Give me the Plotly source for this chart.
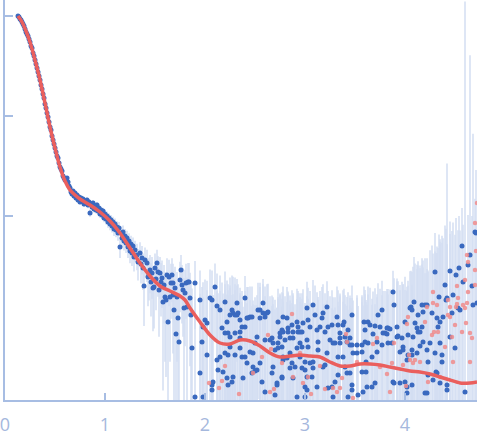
import plotly.graph_objects as go

# ---------------- data (q in nm^-1, log10 intensity, absolute error) ----------------
q_a = [0.13,0.14,0.15,0.16,0.17,0.18,0.19,0.20,0.21,0.22,
       0.23,0.24,0.25,0.26,0.27,0.28,0.29,0.30,0.31,0.32,
       0.33,0.34,0.35,0.36,0.37,0.38,0.39,0.40,0.41,0.42,
       0.43,0.44,0.45,0.46,0.47,0.48,0.49,0.50,0.51,0.52,
       0.53,0.54,0.55,0.56,0.57,0.58,0.59,0.60]
logI_a = [0.00,-0.01,-0.03,-0.04,-0.06,-0.08,-0.10,-0.13,-0.16,-0.18,
          -0.20,-0.23,-0.26,-0.30,-0.32,-0.37,-0.40,-0.44,-0.48,-0.52,
          -0.56,-0.60,-0.64,-0.69,-0.73,-0.78,-0.82,-0.88,-0.92,-0.97,
          -1.01,-1.06,-1.11,-1.14,-1.20,-1.24,-1.28,-1.32,-1.36,-1.40,
          -1.42,-1.47,-1.51,-1.53,-1.55,-1.60,-1.62,-1.64]
err_a = [0.015,0.015,0.014,0.014,0.013,0.012,0.012,0.011,0.011,0.010,
         0.009,0.009,0.008,0.008,0.007,0.006,0.006,0.005,0.005,0.005,
         0.004,0.004,0.0035,0.003,0.003,0.0025,0.0023,0.002,0.0018,0.0016,
         0.0015,0.0013,0.0012,0.0011,0.001,0.0009,0.0008,0.0007,0.0007,0.0006,
         0.0006,0.0005,0.0005,0.0005,0.0004,0.0004,0.0004,0.0004]

q_b = [0.61,0.62,0.63,0.64,0.65,0.66,0.67,0.68,0.69,0.70,
       0.71,0.72,0.73,0.74,0.75,0.76,0.77,0.78,0.79,0.80,
       0.81,0.82,0.83,0.84,0.85,0.86,0.87,0.88,0.89,0.90,
       0.91,0.92,0.93,0.94,0.95,0.96,0.97,0.98,0.99,1.00,
       1.01,1.02,1.03,1.04,1.05,1.06,1.07,1.08,1.09,1.10,
       1.11,1.12,1.13,1.14,1.15,1.16,1.17,1.18,1.19,1.20,
       1.21,1.22,1.23,1.24,1.25,1.26,1.27,1.28,1.29,1.30]
logI_b = [-1.64,-1.62,-1.66,-1.70,-1.72,-1.76,-1.78,-1.75,-1.80,-1.77,
          -1.82,-1.79,-1.84,-1.81,-1.86,-1.82,-1.85,-1.83,-1.88,-1.85,
          -1.87,-1.84,-1.89,-1.86,-1.97,-1.88,-1.91,-1.87,-1.93,-1.90,
          -1.94,-1.89,-1.95,-1.92,-1.98,-1.94,-1.99,-1.95,-2.02,-1.98,
          -2.03,-2.00,-2.06,-2.02,-2.08,-2.04,-2.10,-2.06,-2.13,-2.08,
          -2.14,-2.11,-2.17,-2.12,-2.31,-2.17,-2.22,-2.16,-2.25,-2.20,
          -2.27,-2.22,-2.31,-2.25,-2.35,-2.28,-2.37,-2.30,-2.41,-2.34]
err_b = [0.0008,0.0008,0.0008,0.0008,0.0008,0.0008,0.0008,0.0008,0.0008,0.0008,
         0.0008,0.0008,0.0008,0.0008,0.0008,0.0009,0.0009,0.0009,0.0009,0.0009,
         0.0009,0.0009,0.0009,0.0009,0.0009,0.0009,0.0009,0.0009,0.0009,0.0009,
         0.0009,0.0009,0.0009,0.0009,0.0009,0.0009,0.0009,0.0009,0.0009,0.0011,
         0.0011,0.0011,0.0011,0.0011,0.0011,0.0011,0.0011,0.0011,0.0011,0.0011,
         0.0011,0.0011,0.0011,0.0011,0.0011,0.0011,0.0011,0.0011,0.0011,0.0011,
         0.0011,0.0011,0.0011,0.0011,0.0011,0.0011,0.0011,0.0011,0.0011,0.0011]

q_c = [1.32,1.33,1.35,1.37,1.38,1.39,1.40,1.42,1.43,1.45,
       1.46,1.47,1.48,1.49,1.50,1.52,1.53,1.54,1.55,1.57,
       1.58,1.59,1.60,1.61,1.62,1.63,1.64,1.65,1.66,1.67,
       1.68,1.69,1.70,1.71,1.72,1.73,1.74,1.75,1.76,1.77,
       1.78,1.79,1.80,1.81,1.82,1.83,1.84,1.85,1.36,1.44,
       1.51,1.56,1.68,1.86]
logI_c = [-2.39,-2.46,-2.37,-2.42,-2.52,-2.70,-2.44,-2.47,-2.61,-2.54,
          -2.66,-2.57,-2.72,-2.71,-2.52,-2.47,-2.56,-2.74,-2.57,-2.62,
          -2.86,-2.69,-2.81,-2.84,-2.59,-3.06,-2.61,-2.81,-2.67,-2.59,
          -2.67,-2.94,-2.72,-3.18,-2.81,-3.02,-3.26,-2.64,-2.54,-2.69,
          -2.74,-2.92,-2.77,-2.67,-2.91,-2.66,-2.66,-2.82,-2.48,-2.58,
          -2.63,-2.66,-2.79,-2.99]
err_c = [0.0012,0.0012,0.0012,0.0012,0.0012,0.0012,0.0012,0.0012,0.0012,0.0012,
         0.0012,0.0012,0.0012,0.0012,0.0012,0.0012,0.0012,0.0012,0.0012,0.0012,
         0.0012,0.0012,0.0012,0.0012,0.0012,0.0012,0.0012,0.0012,0.0012,0.0012,
         0.0012,0.0012,0.0012,0.0012,0.0012,0.0012,0.0012,0.0012,0.0012,0.0012,
         0.0012,0.0012,0.0012,0.0012,0.0012,0.0012,0.0012,0.0012,0.0012,0.0012,
         0.0012,0.0012,0.0012,0.0012]

q_d = [1.87,1.90,1.90,1.95,1.95,1.97,1.98,1.98,2.00,2.02,
       2.02,2.05,2.07,2.07,2.07,2.08,2.10,2.12,2.12,2.13,
       2.15,2.15,2.17,2.18,2.20,2.20,2.20,2.22,2.22,2.23,
       2.23,2.23,2.25,2.25,2.25,2.27,2.27,2.28,2.28,2.30,
       2.30,2.30,2.32,2.32,2.33,2.35,2.35,2.35,2.35,2.37,
       2.37,2.38,2.40,2.40,2.40,2.42,2.42,2.43,2.45,2.45,
       2.47,2.47,2.48,2.48,2.50,2.50,2.52,2.52,2.53,2.55,
       2.55,2.55,2.57,2.58,2.58,2.60,2.60,2.60,2.62,2.63,
       2.65,2.67,2.67,2.68,2.68,2.70,2.70,2.72,2.72,2.73,
       2.73,2.73,2.75,2.75,2.77,2.77,2.77,2.77,2.78,2.78,
       2.78,2.78,2.80,2.82,2.82,2.83,2.83,2.85,2.85,2.85,
       2.87,2.87,2.88,2.88,2.88,2.90,2.92,2.92,2.92,2.93,
       2.93,2.95,2.95,2.95,2.97,2.97,2.97,2.98,3.00,3.00,
       3.00,3.00,3.02,3.02,3.02,3.02,3.03,3.03,3.05,3.05,
       3.07,3.08,3.08,3.08,3.10,3.12,3.12,3.13,3.13,3.15,
       3.17,3.18,3.18,3.20,3.20,3.22,3.22,3.23,3.23,3.25,
       3.27,3.27,3.28,3.28,3.30,3.30,3.32,3.33,3.33,3.33,
       3.35,3.35,3.35,3.38,3.38,3.39,3.40,3.40,3.42,3.42,
       3.43,3.43,3.45,3.45,3.45,3.47,3.47,3.47,3.47,3.48,
       3.52,3.52,3.53,3.57,3.57,3.57,3.58,3.59,3.60,3.60,
       3.61,3.61,3.62,3.63,3.63,3.65,3.67,3.67,3.68,3.70,
       3.70,3.72,3.72,3.73,3.75,3.77,3.77,3.78,3.80,3.82,
       3.82,3.83,3.83,3.85,3.87,3.88,3.88,3.89,3.89,3.92,
       3.92,3.93,3.95,3.95,3.97,3.98,3.98,4.00,4.00,4.02,
       4.02,4.02,4.03,4.03,4.05,4.06,4.07,4.07,4.07,4.07,
       4.08,4.09,4.10,4.12,4.12,4.13,4.13,4.15,4.15,4.17,
       4.17,4.18,4.18,4.20,4.20,4.22,4.22,4.22,4.23,4.23,
       4.25,4.27,4.28,4.30,4.30,4.31,4.32,4.32,4.33,4.34,
       4.35,4.35,4.35,4.37,4.37,4.38,4.40,4.41,4.42,4.42,
       4.42,4.45,4.45,4.47,4.48,4.50,4.51,4.53,4.54,4.55,
       4.57,4.58,4.60,4.63,4.65,4.67,4.68,4.70,4.71,4.72]
logI_d = [-3.32,-2.67,-3.81,-2.84,-3.57,-3.26,-3.11,-3.81,-3.04,-3.07,
          -3.39,-2.82,-2.84,-3.74,-3.69,-3.66,-2.71,-2.90,-3.44,-3.54,
          -2.94,-3.41,-3.12,-3.56,-3.17,-2.86,-3.37,-3.06,-3.62,-3.39,
          -3.17,-3.69,-2.99,-3.21,-3.31,-2.94,-3.66,-3.61,-2.97,-2.99,
          -3.17,-3.39,-2.99,-2.87,-2.97,-3.04,-3.22,-3.16,-3.32,-3.11,
          -3.41,-3.62,-2.82,-3.11,-3.41,-3.02,-3.47,-3.02,-3.01,-3.36,
          -3.57,-3.01,-3.51,-3.37,-3.27,-3.55,-3.21,-3.54,-2.94,-3.02,
          -2.94,-3.47,-3.66,-2.97,-2.87,-3.01,-3.76,-3.24,-2.97,-2.96,
          -3.24,-3.57,-3.22,-3.27,-3.51,-3.34,-3.79,-3.69,-3.67,-3.32,
          -3.06,-3.27,-3.21,-3.17,-3.62,-3.14,-3.31,-3.61,-3.16,-3.44,
          -3.41,-3.01,-3.24,-3.02,-3.42,-3.12,-3.16,-3.52,-3.22,-3.37,
          -3.09,-3.47,-3.16,-3.22,-3.62,-3.51,-3.06,-3.32,-3.81,-3.11,
          -3.16,-3.16,-3.27,-3.41,-3.31,-3.16,-3.52,-3.07,-3.54,-3.46,
          -3.71,-3.81,-2.92,-3.61,-3.74,-3.24,-3.04,-3.31,-3.11,-3.47,
          -3.61,-2.89,-3.52,-3.46,-2.99,-3.14,-3.71,-3.26,-3.34,-3.11,
          -3.02,-2.97,-3.51,-3.16,-3.49,-2.91,-3.37,-3.11,-3.72,-3.24,
          -3.09,-3.71,-3.27,-3.81,-3.66,-3.27,-3.01,-3.09,-3.59,-3.41,
          -3.17,-3.22,-3.27,-3.09,-3.41,-3.06,-3.21,-3.51,-3.26,-3.57,
          -3.14,-3.81,-3.29,-3.57,-3.22,-2.99,-3.69,-3.74,-3.29,-3.37,
          -3.29,-3.37,-3.79,-3.29,-3.36,-3.56,-3.76,-3.06,-3.14,-3.26,
          -3.46,-3.56,-3.71,-3.06,-3.27,-3.09,-3.41,-3.71,-3.18,-3.10,
          -3.67,-3.26,-3.36,-2.99,-3.11,-2.94,-3.29,-3.17,-3.17,-3.12,
          -3.18,-3.12,-3.27,-3.13,-3.27,-2.76,-3.66,-2.89,-3.67,-3.21,
          -3.11,-3.20,-3.36,-3.67,-3.22,-3.31,-3.34,-3.06,-3.66,-3.44,
          -3.71,-3.77,-3.19,-3.39,-2.92,-2.91,-2.94,-3.34,-3.39,-3.69,
          -3.21,-2.86,-3.07,-3.12,-3.37,-2.99,-3.16,-3.16,-3.30,-2.89,
          -3.11,-2.96,-3.26,-2.89,-3.77,-2.89,-3.34,-3.77,-3.46,-3.59,
          -3.27,-2.97,-3.64,-2.56,-3.37,-3.56,-3.02,-3.57,-3.11,-2.81,
          -3.06,-3.27,-3.67,-3.39,-3.46,-3.01,-2.69,-2.84,-2.82,-3.69,
          -3.74,-2.55,-3.21,-2.97,-2.79,-3.32,-2.59,-2.92,-2.52,-2.94,
          -2.30,-2.66,-3.76,-2.49,-2.39,-2.70,-2.89,-2.16,-2.17,-2.87]
err_d = [0.0014,0.0014,0.0014,0.0014,0.0014,0.0014,0.0014,0.0014,0.0014,0.0014,
         0.0014,0.0014,0.0014,0.0014,0.0014,0.0014,0.0014,0.0014,0.0014,0.0014,
         0.0014,0.0014,0.0014,0.0014,0.0014,0.0014,0.0014,0.0014,0.0014,0.0014,
         0.0014,0.0014,0.0014,0.0014,0.0014,0.0014,0.0014,0.0014,0.0014,0.0014,
         0.0014,0.0014,0.0010,0.0010,0.0010,0.0010,0.0010,0.0010,0.0010,0.0010,
         0.0010,0.0010,0.0010,0.0010,0.0010,0.0010,0.0010,0.0010,0.0010,0.0010,
         0.0010,0.0010,0.0010,0.0010,0.0010,0.0010,0.0010,0.0010,0.0010,0.0010,
         0.0010,0.0010,0.0010,0.0010,0.0010,0.0010,0.0010,0.0010,0.0010,0.0010,
         0.0010,0.0010,0.0010,0.0010,0.0010,0.0010,0.0010,0.0010,0.0010,0.0010,
         0.0010,0.0010,0.0010,0.0010,0.0010,0.0010,0.0010,0.0010,0.0010,0.0010,
         0.0010,0.0010,0.0010,0.0010,0.0010,0.0010,0.0010,0.0010,0.0010,0.0010,
         0.0010,0.0010,0.0010,0.0010,0.0010,0.0010,0.0010,0.0010,0.0010,0.0010,
         0.0010,0.0010,0.0010,0.0010,0.0010,0.0010,0.0010,0.0010,0.0010,0.0010,
         0.0010,0.0010,0.0010,0.0010,0.0010,0.0010,0.0010,0.0010,0.0010,0.0010,
         0.0010,0.0010,0.0010,0.0010,0.0010,0.0010,0.0010,0.0010,0.0010,0.0010,
         0.0010,0.0010,0.0010,0.0010,0.0010,0.0010,0.0010,0.0010,0.0010,0.0010,
         0.0010,0.0010,0.0010,0.0010,0.0010,0.0010,0.0010,0.0010,0.0010,0.0010,
         0.0010,0.0010,0.0010,0.0010,0.0010,0.0010,0.0010,0.0010,0.0010,0.0010,
         0.0010,0.0010,0.0010,0.0010,0.0010,0.0010,0.0010,0.0010,0.0010,0.0010,
         0.0011,0.0011,0.0011,0.0011,0.0011,0.0011,0.0011,0.0011,0.0011,0.0011,
         0.0011,0.0011,0.0011,0.0011,0.0011,0.0011,0.0011,0.0011,0.0011,0.0011,
         0.0011,0.0011,0.0011,0.0011,0.0011,0.0011,0.0011,0.0011,0.0011,0.0011,
         0.0011,0.0011,0.0011,0.0011,0.0011,0.0011,0.0011,0.0011,0.0011,0.0016,
         0.0016,0.0016,0.0016,0.0016,0.0016,0.0016,0.0016,0.0016,0.0016,0.0016,
         0.0016,0.0016,0.0016,0.0016,0.0016,0.0016,0.0016,0.0016,0.0016,0.0016,
         0.0025,0.0025,0.0025,0.0025,0.0025,0.0025,0.0025,0.0025,0.0025,0.0025,
         0.0025,0.0025,0.0025,0.0025,0.0025,0.0025,0.0025,0.0025,0.0025,0.0025,
         0.004,0.004,0.004,0.004,0.004,0.004,0.004,0.004,0.004,0.005,
         0.005,0.005,0.005,0.005,0.006,0.005,0.006,0.006,0.032,0.005,
         0.005,0.006,0.006,0.006,0.007,0.006,0.007,0.006,0.007,0.006,
         0.007,0.006,1.4,0.007,0.4,0.008,0.065,0.008,0.022,0.007]

# points drawn in light red
q_pink = [2.04,2.14,2.17,2.20,2.34,2.48,2.57,2.63,2.65,2.66,
          2.69,2.77,2.87,2.88,2.95,2.98,3.03,3.06,3.15,3.20,
          3.28,3.32,3.35,3.37,3.41,3.42,3.48,3.52,3.68,3.72,
          3.75,3.82,3.85,3.87,3.89,3.98,4.01,4.02,4.03,4.04,
          4.05,4.08,4.10,4.15,4.20,4.22,4.23,4.27,4.28,4.28,
          4.29,4.32,4.33,4.35,4.40,4.43,4.43,4.45,4.45,4.47,
          4.48,4.50,4.51,4.52,4.52,4.53,4.57,4.58,4.60,4.60,
          4.61,4.62,4.62,4.63,4.63,4.65,4.65,4.67,4.70,4.70,
          4.70,4.71,4.72]
logI_pink = [-3.67,-3.72,-3.65,-3.50,-3.78,-3.57,-3.41,-3.19,-3.76,-3.33,
             -3.73,-3.47,-2.98,-3.61,-3.37,-3.67,-3.61,-3.78,-3.50,-3.73,
             -3.72,-3.76,-3.72,-3.62,-3.18,-3.26,-3.82,-3.46,-3.28,-3.22,
             -3.51,-3.58,-3.76,-3.47,-3.27,-3.49,-3.70,-3.08,-3.01,-3.39,
             -3.44,-3.47,-3.44,-3.46,-3.06,-2.91,-3.66,-3.19,-2.76,-2.87,
             -3.16,-2.89,-3.16,-3.61,-3.31,-2.84,-2.99,-2.91,-3.01,-3.21,
             -3.46,-3.09,-2.91,-2.70,-2.88,-2.82,-3.16,-2.89,-2.64,-2.92,
             -3.07,-2.39,-2.87,-2.46,-2.76,-3.17,-3.46,-3.22,-2.07,-2.54,
             -2.69,-2.35,-1.87]

# fitted model curve
q_fit = [0.13,0.17,0.21,0.25,0.30,0.35,0.40,0.45,0.50,0.55,
         0.60,0.65,0.70,0.75,0.85,0.95,1.05,1.15,1.25,1.35,
         1.45,1.55,1.65,1.75,1.80,1.85,1.95,2.05,2.15,2.25,
         2.35,2.45,2.55,2.65,2.75,2.85,2.95,3.05,3.15,3.25,
         3.35,3.45,3.55,3.65,3.75,3.85,3.95,4.05,4.15,4.25,
         4.35,4.45,4.55,4.65,4.72]
logI_fit = [0.00,-0.06,-0.15,-0.26,-0.44,-0.64,-0.87,-1.11,-1.32,-1.51,
            -1.65,-1.74,-1.79,-1.83,-1.89,-1.96,-2.05,-2.17,-2.32,-2.47,
            -2.60,-2.70,-2.75,-2.80,-2.84,-2.92,-3.06,-3.19,-3.27,-3.28,
            -3.24,-3.25,-3.30,-3.37,-3.41,-3.40,-3.39,-3.40,-3.41,-3.46,
            -3.50,-3.50,-3.48,-3.48,-3.49,-3.51,-3.53,-3.55,-3.56,-3.58,
            -3.61,-3.64,-3.67,-3.67,-3.66]

x_ticks = [0, 1, 2, 3, 4]
x_tick_text = ["0", "1", "2", "3", "4"]
y_ticks = [1, 0.1, 0.01]

# ---------------- assemble ----------------
q_all = q_a + q_b + q_c + q_d
logI_all = logI_a + logI_b + logI_c + logI_d
err_all = err_a + err_b + err_c + err_d
assert len(q_all) == len(logI_all) == len(err_all), (len(q_all), len(logI_all), len(err_all))
assert len(q_pink) == len(logI_pink)
assert len(q_fit) == len(logI_fit)

I_all = [10 ** v for v in logI_all]
I_pink = [10 ** v for v in logI_pink]
I_fit = [10 ** v for v in logI_fit]

axis_col = "#a7bde3"
fig = go.Figure()
fig.add_trace(go.Scatter(
    x=q_all, y=I_all, mode="markers",
    marker=dict(color="#3a69bf", size=5),
    error_y=dict(type="data", array=err_all, symmetric=True,
                 color="#d3def2", thickness=1.5, width=0),
    showlegend=False, hoverinfo="skip"))
fig.add_trace(go.Scatter(
    x=q_pink, y=I_pink, mode="markers",
    marker=dict(color="rgba(240,140,140,0.85)", size=4.5),
    showlegend=False, hoverinfo="skip"))
fig.add_trace(go.Scatter(
    x=q_fit, y=I_fit, mode="lines",
    line=dict(color="#ea5f5d", width=3.5, shape="spline", smoothing=0.8),
    showlegend=False, hoverinfo="skip"))

fig.update_layout(
    width=477, height=438,
    margin=dict(l=5, r=0, t=0, b=38, autoexpand=False),
    paper_bgcolor="white", plot_bgcolor="white",
    font=dict(family="Open Sans", size=18, color="#a5b8dd"),
    xaxis=dict(range=[0, 4.72], tickvals=x_ticks, ticktext=x_tick_text,
               showgrid=False, zeroline=False, showline=True,
               linecolor=axis_col, linewidth=1.5,
               ticks="inside", ticklen=7, tickcolor=axis_col, tickwidth=1.5,
               ticklabelstandoff=8, ticklabeloverflow="allow"),
    yaxis=dict(type="log", range=[-3.84, 0.16], tickvals=y_ticks,
               showticklabels=False, showgrid=False, zeroline=False,
               showline=True, linecolor=axis_col, linewidth=1.5,
               ticks="inside", ticklen=8, tickcolor=axis_col, tickwidth=1.5),
)

fig.write_html("out.html", config={"displayModeBar": False},
               post_script="document.body.style.margin='0';")
